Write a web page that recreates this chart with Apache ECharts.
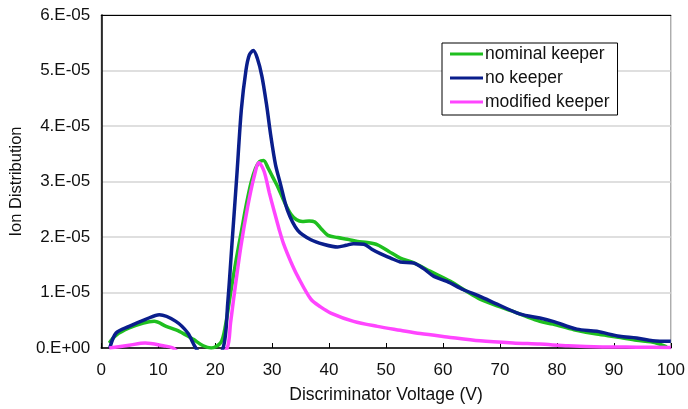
<!DOCTYPE html>
<html>
<head>
<meta charset="utf-8">
<script src="https://cdn.jsdelivr.net/npm/echarts@6/dist/echarts.min.js"></script>
<style>
html,body{margin:0;padding:0;background:#fff;}
#c{width:688px;height:409px;}
</style>
</head>
<body>
<div id="c"></div>
<script>
// values in units of 1E-05
const seriesNames = ['nominal keeper', 'no keeper', 'modified keeper'];

const nominalX = [1.4, 2.6, 4.9, 7.4, 9.3, 11.4, 13.7, 16.1, 17.9, 19.3, 21, 21.8, 22.8, 23.7, 24.6, 25.5, 26.3, 27.1, 27.8, 28.5, 29.3, 30.2, 31.1, 32.2, 33.3, 34.3, 35.3, 36.5, 37.5, 38.6, 39.8, 41.5, 43.2, 45, 46.7, 48.5, 50.5, 52.5, 54.8, 57.8, 61.3, 64, 66.5, 69.5, 72.3, 75, 77, 79.3, 83, 87, 90.5, 94, 96.5, 98, 99.3];
const nominalY = [0.09, 0.23, 0.36, 0.45, 0.48, 0.39, 0.3, 0.16, 0.04, 0, 0.1, 0.4, 1.05, 1.6, 2.1, 2.6, 2.98, 3.24, 3.36, 3.38, 3.24, 3.06, 2.88, 2.62, 2.41, 2.31, 2.28, 2.29, 2.27, 2.15, 2.03, 1.99, 1.96, 1.92, 1.9, 1.86, 1.74, 1.62, 1.54, 1.38, 1.2, 1.03, 0.88, 0.76, 0.66, 0.55, 0.48, 0.43, 0.33, 0.25, 0.2, 0.14, 0.11, 0.07, 0.02];

const noKeeperX = [1.5, 2.6, 4.9, 7.9, 10.2, 13.1, 15.2, 16.6, 19, 21.4, 22.2, 23.0, 23.8, 24.6, 25.4, 26.0, 26.7, 27.4, 28.2, 29.0, 29.8, 30.6, 31.4, 32.7, 34.5, 36.8, 39, 41.5, 43, 44.3, 46.1, 47.5, 49, 50.8, 52.5, 54.9, 56.6, 58.4, 60.7, 63.6, 66.5, 69.5, 73.6, 77, 79.3, 83.5, 87, 91, 94, 96.8, 100];
const noKeeperY = [0, 0.27, 0.39, 0.52, 0.6, 0.48, 0.27, 0, -0.3, 0, 0.8, 1.95, 3.1, 4.3, 5.0, 5.28, 5.36, 5.22, 4.9, 4.4, 3.8, 3.3, 2.98, 2.48, 2.12, 1.95, 1.87, 1.82, 1.85, 1.88, 1.87, 1.78, 1.7, 1.62, 1.55, 1.53, 1.43, 1.29, 1.2, 1.05, 0.93, 0.79, 0.61, 0.54, 0.48, 0.34, 0.3, 0.21, 0.18, 0.13, 0.12];

const modifiedX = [1.4, 4.9, 7.7, 10.9, 12.6, 15, 20, 22.1, 22.7, 23.3, 24.5, 25.7, 26.8, 27.7, 28.6, 29.5, 30.4, 31.2, 32, 33.3, 34.5, 36.8, 38.5, 40.3, 44.3, 48.5, 52.5, 56, 60.7, 66.5, 72.3, 77, 82, 88, 94, 100];
const modifiedY = [0, 0.05, 0.09, 0.04, 0, -0.2, -0.2, 0, 0.45, 0.93, 1.82, 2.54, 3.07, 3.34, 3.18, 2.8, 2.45, 2.15, 1.88, 1.55, 1.29, 0.88, 0.74, 0.63, 0.48, 0.39, 0.32, 0.26, 0.2, 0.13, 0.09, 0.07, 0.04, 0.02, 0.015, 0.01];

const xTicks = [0, 100, 10];   // min, max, interval
const yTicks = [0, 6, 1];      // min, max, interval (x 1E-05)

const colors = ['#1fbf1f', '#0a1e8c', '#ff45ff'];
const FONT = "'Liberation Sans', Arial, sans-serif";

function pairs(xs, ys) { return xs.map((x, i) => [x, ys[i]]); }

const chart = echarts.init(document.getElementById('c'), null, {renderer: 'canvas'});
const lineSeries = (i, xs, ys) => ({
  name: seriesNames[i], type: 'line', data: pairs(xs, ys),
  smooth: 0.3, showSymbol: false, clip: true,
  lineStyle: {color: colors[i], width: 3.5}, itemStyle: {color: colors[i]}
});
chart.setOption({
  animation: false,
  backgroundColor: '#fff',
  textStyle: {fontFamily: FONT},
  grid: {left: 100, right: 17, top: 15, bottom: 57, show: true, borderColor: '#888', borderWidth: 1},
  legend: {
    orient: 'vertical', left: 442, top: 43,
    padding: [2, 8, 4, 8], itemGap: 6,
    borderColor: '#000', borderWidth: 1, backgroundColor: '#fff',
    icon: 'rect', itemWidth: 33, itemHeight: 3,
    textStyle: {fontFamily: FONT, fontSize: 17.5, color: '#111', lineHeight: 17, padding: [0, 0, 0, -3]},
    data: seriesNames
  },
  xAxis: [{
    type: 'value', min: xTicks[0], max: xTicks[1], interval: xTicks[2],
    name: 'Discriminator Voltage (V)', nameLocation: 'middle', nameGap: 38,
    nameTextStyle: {fontFamily: FONT, fontSize: 17.5, color: '#111'},
    axisLine: {show: true, lineStyle: {color: '#000', width: 1.5}},
    axisTick: {show: true, inside: true, length: 5, lineStyle: {color: '#000'}},
    axisLabel: {fontFamily: FONT, fontSize: 17, color: '#111', margin: 14},
    splitLine: {show: false}
  }, {
    type: 'value', position: 'top', min: xTicks[0], max: xTicks[1],
    axisLine: {show: true, onZero: false, lineStyle: {color: '#000', width: 1}},
    axisTick: {show: false}, axisLabel: {show: false}, splitLine: {show: false}
  }],
  yAxis: {
    type: 'value', min: yTicks[0], max: yTicks[1], interval: yTicks[2],
    name: 'Ion Distribution', nameLocation: 'middle', nameGap: 74,
    nameTextStyle: {fontFamily: FONT, fontSize: 16.5, color: '#111'},
    axisLine: {show: true, lineStyle: {color: '#000', width: 1.5}},
    axisTick: {show: false},
    axisLabel: {fontFamily: FONT, fontSize: 17, color: '#111', margin: 11,
      formatter: v => v === 0 ? '0.E+00' : Math.round(v) + '.E-05'},
    splitLine: {show: true, lineStyle: {color: '#d4d4d4', width: 1.5}}
  },
  series: [
    lineSeries(0, nominalX, nominalY),
    lineSeries(1, noKeeperX, noKeeperY),
    lineSeries(2, modifiedX, modifiedY)
  ]
});
</script>
</body>
</html>
